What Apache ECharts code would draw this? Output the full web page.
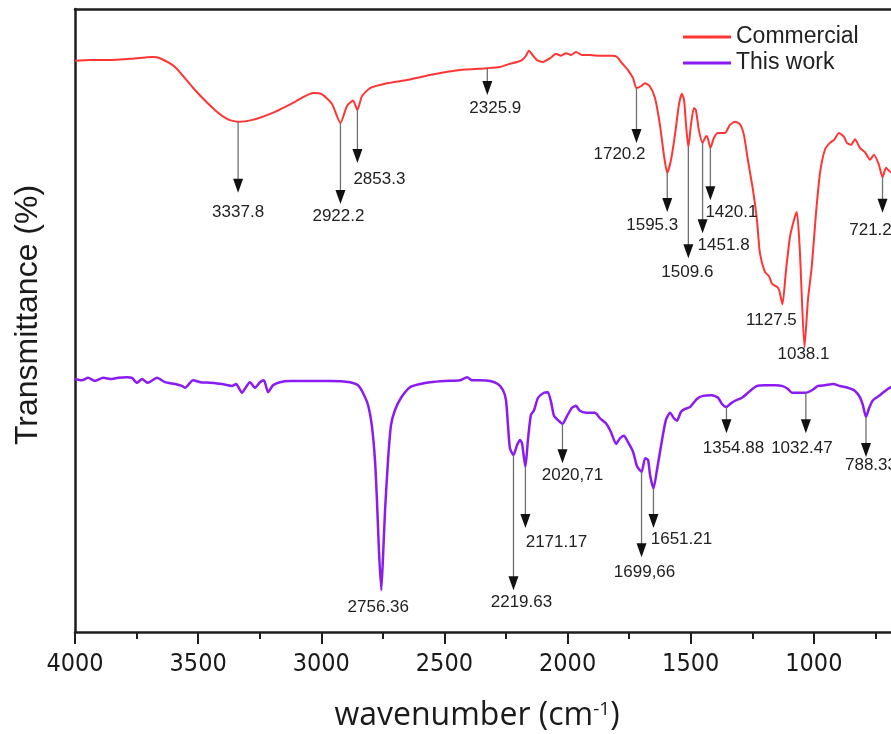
<!DOCTYPE html>
<html>
<head>
<meta charset="utf-8">
<title>FTIR spectra</title>
<script src="https://cdn.jsdelivr.net/npm/echarts/dist/echarts.min.js"></script>
<style>
  html, body { margin: 0; padding: 0; background: #fff; overflow: hidden; }
  #chart { width: 891px; height: 734px; }
</style>
</head>
<body>
<div id="chart"></div>
<script>
// ---------- spectra (wavenumber in cm^-1, transmittance in arbitrary %) ----------
const commercialWn = [4000,3939,3858,3777,3683,3655,3594,3513,3432,3379,3337.8,3279,3188,3107,3034,2997,2957,2922.2,2896,2871,2853.3,2835,2802,2741,2652,2559,2437,2325.9,2274,2234,2205,2185,2169,2157,2140,2124,2100,2071,2047,2027,2006,1986,1966,1942,1909,1868,1820,1799,1779,1755,1734,1720.2,1702,1686,1666,1645,1625,1609,1595.3,1580,1564,1548,1536,1527,1519,1509.6,1499,1487,1479,1467,1451.8,1442,1434,1420.1,1406,1389,1361,1341,1320,1300,1284,1268,1247,1231,1219,1199,1182,1170,1150,1141,1127.5,1113,1097,1081,1069,1057,1038.1,1024,1008,992,975,955,935,918,898,878,866,849,833,813,792,772,756,736,721.2,707,687,650,600];
const commercialT = [91.7,91.8,91.8,92.0,92.3,92.1,90.7,87.0,83.8,82.3,81.9,82.2,83.5,85.1,86.5,86.3,84.8,81.7,84.4,85.3,83.8,86.0,87.3,88.0,88.6,89.4,90.2,90.5,90.7,91.2,91.5,91.8,92.5,93.3,92.5,91.8,91.5,92.1,92.8,92.5,92.9,92.6,93.1,92.6,92.6,92.5,92.5,92.3,91.3,90.2,88.9,87.3,87.6,88.1,87.6,85.7,81.4,76.6,73.7,75.8,79.8,84.6,86.4,85.4,81.4,77.8,81.4,84.1,83.8,80.6,78.5,79.3,79.6,77.7,79.3,80.1,80.1,81.4,81.9,81.5,79.8,75.8,70.9,66.1,60.8,57.8,57.1,55.9,55.4,54.9,52.6,58.1,63.4,66.1,67.4,61.3,45.7,53.3,58.9,66.9,73.7,77.4,78.5,79.0,80.1,79.5,78.5,78.2,79.1,77.7,77.0,75.8,76.6,75.0,73.0,74.5,73.8,74.2,73.4];

const thisWorkWn = [4000,3972,3947,3919,3886,3850,3825,3789,3769,3748,3728,3704,3667,3635,3594,3566,3553,3521,3492,3452,3403,3363,3346,3322,3306,3290,3269,3249,3233,3216,3196,3168,3127,3066,2965,2883,2851,2831,2810,2794,2782,2774,2766,2756.36,2749,2741,2729,2717,2701,2676,2640,2599,2559,2498,2437,2408,2388,2356,2315,2283,2262,2250,2242,2234,2219.63,2205,2193,2185,2171.17,2161,2149,2136,2120,2096,2080,2067,2055,2039,2020.71,2002,1982,1966,1950,1925,1889,1868,1844,1824,1803,1787,1771,1755,1734,1718,1699.66,1685,1673,1665,1651.21,1637,1620,1601,1584,1568,1556,1540,1523,1503,1475,1450,1414,1389,1373,1354.88,1337,1316,1292,1259,1231,1199,1158,1130,1105,1089,1065,1032.47,1008,983,955,922,894,862,833,813,801,788.33,776,760,732,707,687,650,600];
const thisWorkT = [40.6,40.4,40.8,40.3,40.8,40.6,40.8,40.9,40.8,40.0,40.6,40.0,40.8,40.1,39.8,39.5,39.2,40.4,40.1,40.0,39.8,39.5,39.8,38.4,39.3,40.1,39.2,40.1,40.4,38.5,39.6,40.1,40.3,40.3,40.3,40.1,39.6,38.4,36.4,32.9,27.6,21.2,13.2,6.7,12.4,19.6,27.6,33.2,35.6,37.6,39.3,39.8,40.1,40.3,40.4,40.9,40.4,40.4,40.3,39.8,38.8,37.2,33.2,29.5,28.4,30.0,30.8,30.3,26.5,30.8,34.8,35.6,37.6,38.4,38.5,36.9,34.7,34.0,33.4,34.7,36.0,36.3,35.5,35.2,35.2,34.3,33.5,32.1,30.2,31.1,31.5,30.5,28.9,26.6,25.7,27.9,27.6,25.2,23.0,26.0,30.0,34.0,35.2,34.3,33.9,35.3,35.8,36.1,37.4,37.9,38.0,37.6,36.6,36.1,36.7,37.2,37.6,38.7,39.5,39.6,39.6,39.5,39.0,38.4,38.4,38.4,38.8,39.5,39.6,39.8,39.5,39.2,38.7,37.7,36.4,34.5,35.9,37.2,38.0,38.8,39.3,39.6,39.8];

const seriesNames = ['Commercial', 'This work'];
const xTicks = { min: 500, max: 4000, step: 500 };

// band assignments (the label text is the band position)
const commercialPeaks = ['3337.8','2922.2','2853.3','2325.9','1720.2','1595.3','1509.6','1451.8','1420.1','1127.5','1038.1','721.2'];
const thisWorkPeaks = ['2756.36','2219.63','2171.17','2020,71','1699,66','1651.21','1354.88','1032.47','788.33'];

// ---------- annotation layout ----------
// level where each arrow head ends (null: label only), label level, label shift in px
const commercialArrowEnd = [70.5, 68.7, 75.3, 86.2, 78.5, 67.4, 60.0, 64.0, 69.3, null, null, 67.3];
const commercialLabelAt  = [67.4, 66.8, 72.6, 84.1, 76.6, 65.3, 57.8, 62.1, 67.4, 50.1, 44.5, 64.5];
const commercialLabelDx  = [0, -2, 22, 8, -17, -15, -1, 21, 21, -11, -1, -12];
const thisWorkArrowEnd = [null, 6.7, 16.7, 27.1, 12.0, 16.7, 31.9, 31.9, 28.1];
const thisWorkLabelAt  = [4.0, 4.7, 14.4, 25.2, 9.6, 14.8, 29.5, 29.5, 26.8];
const thisWorkLabelDx  = [-3, 8, 31, 10, 3, 28, 7, -4, 5];

const RED = '#ff3535';
const PURPLE = '#8a1cf2';
const INK = '#1e1e1e';
const ARIAL = '"Liberation Sans", Arial, sans-serif';
const NARROW = '"Liberation Sans Narrow", "Arial Narrow", "DejaVu Sans Condensed", sans-serif';

function zip(xs, ys) {
  return xs.map((x, i) => [x, ys[i]]);
}

// linear interpolation of a spectrum (wavenumbers are descending)
function curveAt(xs, ys, x) {
  for (let i = 0; i < xs.length - 1; i++) {
    const a = xs[i], b = xs[i + 1];
    if (x <= a && x >= b) {
      if (a === b) return ys[i];
      return ys[i] + (ys[i + 1] - ys[i]) * (a - x) / (a - b);
    }
  }
  return ys[ys.length - 1];
}

function peakSeries(xs, ys, labels, ends, levels, shifts) {
  const data = labels.map((s, i) => {
    const wn = parseFloat(s.replace(',', '.'));
    return [wn, curveAt(xs, ys, wn), ends[i] == null ? NaN : ends[i], levels[i], shifts[i]];
  });
  return {
    type: 'custom',
    data: data,
    encode: { x: 0, y: 1 },
    silent: true,
    clip: false,
    z: 5,
    renderItem: function (params, api) {
      const wn = api.value(0);
      const start = api.coord([wn, api.value(1)]);
      const end = api.value(2);
      const lab = api.coord([wn, api.value(3)]);
      const dx = api.value(4);
      const children = [];
      if (!isNaN(end)) {
        const tip = api.coord([wn, end]);
        const headH = 14, headW = 5;
        children.push({
          type: 'line',
          shape: { x1: start[0], y1: start[1], x2: tip[0], y2: tip[1] - headH + 1 },
          style: { stroke: '#707070', lineWidth: 1.3 }
        });
        children.push({
          type: 'polygon',
          shape: { points: [[tip[0] - headW, tip[1] - headH], [tip[0] + headW, tip[1] - headH], [tip[0], tip[1]]] },
          style: { fill: '#111' }
        });
      }
      children.push({
        type: 'text',
        x: lab[0] + dx,
        y: lab[1],
        style: {
          text: labels[params.dataIndex],
          fill: '#222',
          font: '17px ' + ARIAL,
          align: 'center',
          verticalAlign: 'middle'
        }
      });
      return { type: 'group', children: children };
    }
  };
}

const chart = echarts.init(document.getElementById('chart'), null, { renderer: 'canvas' });

const option = {
  animation: false,
  backgroundColor: '#ffffff',
  // the wavenumber axis runs on past the right edge of the page
  grid: { left: 75, top: 9, width: 862, height: 623, containLabel: false, outerBoundsMode: 'none' },
  legend: {
    data: seriesNames,
    orient: 'vertical',
    left: 683,
    top: 25,
    padding: 0,
    icon: 'rect',
    itemWidth: 48,
    itemHeight: 3,
    itemGap: 2,
    textStyle: { fontFamily: ARIAL, fontSize: 23, color: '#222', lineHeight: 24 }
  },
  xAxis: [{
    type: 'value',
    inverse: true,
    min: xTicks.min,
    max: xTicks.max,
    interval: xTicks.step,
    axisLine: { show: true, onZero: false, lineStyle: { color: INK, width: 2.5 } },
    axisTick: { show: true, inside: false, length: 12, lineStyle: { color: INK, width: 2 } },
    minorTick: { show: true, splitNumber: 2, length: 7, lineStyle: { color: INK, width: 2 } },
    axisLabel: {
      show: true, margin: 20, fontFamily: NARROW, fontSize: 25, color: '#1a1a1a',
      formatter: function (v) { return String(v); }
    },
    splitLine: { show: false }
  }, {
    type: 'value',
    position: 'top',
    inverse: true,
    min: xTicks.min,
    max: xTicks.max,
    axisLine: { show: true, onZero: false, lineStyle: { color: INK, width: 2.5 } },
    axisTick: { show: false },
    axisLabel: { show: false },
    splitLine: { show: false }
  }],
  yAxis: {
    type: 'value',
    min: 0,
    max: 100,
    axisLine: { show: true, onZero: false, lineStyle: { color: INK, width: 2.5 } },
    axisTick: { show: false },
    axisLabel: { show: false },
    splitLine: { show: false }
  },
  graphic: [{
    type: 'text',
    x: 28,
    y: 315,
    rotation: Math.PI / 2,
    style: {
      text: 'Transmittance (%)',
      font: '32px ' + ARIAL,
      fill: '#1a1a1a',
      align: 'center',
      verticalAlign: 'middle'
    }
  }, {
    type: 'text',
    x: 477,
    y: 716,
    style: {
      text: 'wavenumber (cm{sup|-1})',
      font: '32px "Open Sans", sans-serif',
      fill: '#1a1a1a',
      align: 'center',
      verticalAlign: 'middle',
      rich: {
        sup: { fontFamily: 'Open Sans', fontSize: 19, lineHeight: 19, verticalAlign: 'top', fill: '#1a1a1a' }
      }
    }
  }],
  series: [{
    name: seriesNames[0],
    type: 'line',
    data: zip(commercialWn, commercialT),
    showSymbol: false,
    symbol: 'none',
    smooth: 0.2,
    clip: true,
    lineStyle: { color: RED, width: 2 },
    itemStyle: { color: RED },
    z: 3
  }, {
    name: seriesNames[1],
    type: 'line',
    data: zip(thisWorkWn, thisWorkT),
    showSymbol: false,
    symbol: 'none',
    smooth: 0.2,
    clip: true,
    lineStyle: { color: PURPLE, width: 2.5 },
    itemStyle: { color: PURPLE },
    z: 3
  },
  peakSeries(commercialWn, commercialT, commercialPeaks, commercialArrowEnd, commercialLabelAt, commercialLabelDx),
  peakSeries(thisWorkWn, thisWorkT, thisWorkPeaks, thisWorkArrowEnd, thisWorkLabelAt, thisWorkLabelDx)
  ]
};

chart.setOption(option);
</script>
</body>
</html>
